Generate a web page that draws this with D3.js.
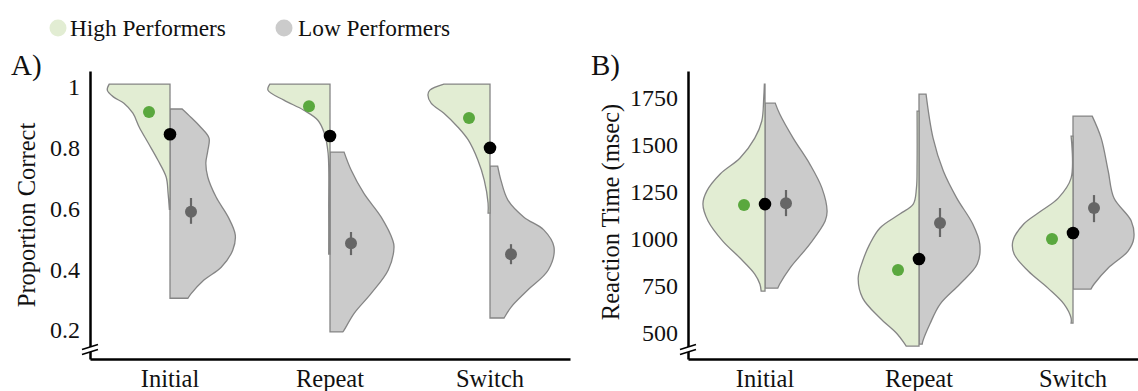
<!DOCTYPE html>
<html>
<head>
<meta charset="utf-8">
<script src="https://cdn.jsdelivr.net/npm/d3@7"></script>
<style>
  body { margin: 0; background: #fff; }
  svg text { font-family: "Liberation Serif", "Times New Roman", serif; fill: #111; }
</style>
</head>
<body>
<div id="chart"></div>
<script>
// categories + legend
const categories = ["Initial", "Repeat", "Switch"];
const groups = ["High Performers", "Low Performers"];

// A) proportion correct — violin outlines as [value, relative density 0-100]
const accHighDensity = [
  [[1.01, 95], [0.99, 98], [0.967, 88], [0.947, 72], [0.914, 58], [0.868, 48], [0.816, 34], [0.76, 19], [0.704, 6], [0.651, 3], [0.598, 1]],
  [[1.01, 94], [0.99, 97], [0.957, 72], [0.924, 41], [0.891, 19], [0.849, 9], [0.783, 3], [0.6, 2], [0.45, 2]],
  [[1.01, 72], [0.99, 94], [0.974, 97], [0.947, 92], [0.914, 72], [0.868, 50], [0.826, 34], [0.76, 19], [0.694, 9], [0.618, 3], [0.585, 3]]
];
const accLowDensity = [
  [[0.928, 19], [0.9, 33], [0.868, 48], [0.832, 61], [0.79, 59], [0.75, 56], [0.704, 59], [0.638, 72], [0.572, 91], [0.513, 102], [0.463, 98], [0.407, 80], [0.365, 53], [0.32, 33], [0.305, 28]],
  [[0.786, 22], [0.727, 33], [0.65, 53], [0.572, 80], [0.496, 98], [0.473, 100], [0.398, 91], [0.32, 64], [0.256, 38], [0.2, 22], [0.194, 20]],
  [[0.74, 12], [0.694, 17], [0.628, 28], [0.572, 53], [0.53, 84], [0.473, 100], [0.398, 91], [0.332, 59], [0.276, 33], [0.24, 22]]
];
const accHighMean = [0.918, 0.937, 0.898];
const accAllMean = [0.845, 0.839, 0.80];
const accAllErr = [[0.83, 0.86], [0.82, 0.855], [0.785, 0.815]];
const accLowMean = [0.59, 0.486, 0.45];
const accLowErr = [[0.55, 0.635], [0.447, 0.523], [0.417, 0.483]];
const accTicks = [0.2, 0.4, 0.6, 0.8, 1];

// B) reaction time (msec)
const rtHighDensity = [
  [[1824, 1], [1750, 2], [1628, 5], [1537, 16], [1431, 39], [1346, 70], [1255, 91], [1186, 97], [1096, 89], [989, 66], [899, 39], [814, 16], [761, 8], [723, 6]],
  [[1681, 3], [1400, 3], [1271, 4], [1186, 9], [1133, 30], [1059, 61], [973, 77], [883, 88], [793, 95], [686, 88], [580, 61], [495, 34], [441, 22], [431, 20]],
  [[1548, 3], [1324, 3], [1218, 23], [1149, 50], [1080, 77], [989, 94], [920, 92], [830, 70], [739, 39], [654, 14], [580, 3], [553, 3]]
];
const rtLowDensity = [
  [[1723, 16], [1665, 23], [1537, 44], [1399, 70], [1271, 89], [1149, 97], [1096, 94], [973, 70], [846, 39], [761, 23], [739, 20]],
  [[1771, 11], [1537, 22], [1362, 38], [1218, 59], [1080, 84], [973, 95], [867, 91], [761, 64], [654, 33], [548, 17], [457, 6], [441, 5]],
  [[1654, 30], [1537, 44], [1362, 55], [1218, 64], [1096, 91], [1005, 95], [936, 86], [846, 55], [761, 33], [734, 28]]
];
const rtHighMean = [1181, 835, 1000];
const rtAllMean = [1186, 894, 1032];
const rtAllErr = [[1176, 1196], [884, 904], [1022, 1042]];
const rtLowMean = [1191, 1085, 1165];
const rtLowErr = [[1122, 1261], [1011, 1165], [1090, 1234]];
const rtTicks = [500, 750, 1000, 1250, 1500, 1750];

const W = 1138, H = 391;
const TOP = 71, BOTTOM = 359;
const FONT = "'Liberation Serif', 'Times New Roman', serif";
const COL = { high: "#e2edd3", low: "#cbcbcb", edge: "#858585", green: "#5aa83e", grey: "#666", black: "#000" };

const svg = d3.select("#chart").append("svg").attr("width", W).attr("height", H);

// legend
const legend = svg.append("g");
[[58, 70, COL.high], [284, 298, COL.low]].forEach(([cx, tx, fill], i) => {
  legend.append("circle").attr("cx", cx).attr("cy", 28).attr("r", 8.5).attr("fill", fill);
  legend.append("text").attr("x", tx).attr("y", 36).style("font-family", FONT).style("font-size", "23.3px").text(groups[i]);
});

const panels = [
  { label: "A)", labelX: 11, title: "Proportion Correct", titleX: 35, titleY: 215,
    xRange: [90, 570], yDomain: [0.105, 1.053], ticks: accTicks, fmt: d => d === 1 ? "1" : d3.format(".1f")(d),
    high: accHighDensity, low: accLowDensity, highMean: accHighMean, allMean: accAllMean, allErr: accAllErr,
    lowMean: accLowMean, lowErr: accLowErr },
  { label: "B)", labelX: 591, title: "Reaction Time (msec)", titleX: 619, titleY: 212,
    xRange: [688, 1150], yDomain: [362, 1894], ticks: rtTicks, fmt: d3.format("d"),
    high: rtHighDensity, low: rtLowDensity, highMean: rtHighMean, allMean: rtAllMean, allErr: rtAllErr,
    lowMean: rtLowMean, lowErr: rtLowErr }
];

const wScale = d3.scaleLinear().domain([0, 100]).range([0, 64]);
const OFF = 21; // dot offset from split line

panels.forEach(p => {
  const g = svg.append("g");
  const x = d3.scaleBand().domain(categories).range(p.xRange);
  const y = d3.scaleLinear().domain(p.yDomain).range([BOTTOM, TOP]);
  const cx = c => x(c) + x.bandwidth() / 2;

  // violins
  categories.forEach((c, i) => {
    const m = cx(c);
    const left = d3.area().x0(m).x1(d => m - wScale(d[1])).y(d => y(d[0])).curve(d3.curveCatmullRom);
    const right = d3.area().x0(m).x1(d => m + wScale(d[1])).y(d => y(d[0])).curve(d3.curveCatmullRom);
    g.append("path").attr("d", right(p.low[i])).attr("fill", COL.low).attr("stroke", COL.edge).attr("stroke-width", 1.3);
    g.append("path").attr("d", left(p.high[i])).attr("fill", COL.high).attr("stroke", COL.edge).attr("stroke-width", 1.3);
  });

  // means + error bars
  categories.forEach((c, i) => {
    const m = cx(c);
    g.append("line").attr("x1", m + OFF).attr("x2", m + OFF)
      .attr("y1", y(p.lowErr[i][0])).attr("y2", y(p.lowErr[i][1])).attr("stroke", COL.grey).attr("stroke-width", 2.2);
    g.append("circle").attr("cx", m + OFF).attr("cy", y(p.lowMean[i])).attr("r", 6).attr("fill", COL.grey);
    g.append("circle").attr("cx", m - OFF).attr("cy", y(p.highMean[i])).attr("r", 6).attr("fill", COL.green);
    g.append("line").attr("x1", m).attr("x2", m)
      .attr("y1", y(p.allErr[i][0])).attr("y2", y(p.allErr[i][1])).attr("stroke", COL.black).attr("stroke-width", 2);
    g.append("circle").attr("cx", m).attr("cy", y(p.allMean[i])).attr("r", 6.3).attr("fill", COL.black);
  });

  // axes
  const ax = g.append("g").attr("transform", `translate(${p.xRange[0]},0)`)
    .call(d3.axisLeft(y).tickValues(p.ticks).tickFormat(p.fmt).tickSize(0).tickPadding(10));
  ax.select(".domain").attr("stroke", "#000").attr("stroke-width", 2.5);
  ax.selectAll("text").style("font-size", "24px").attr("fill", "#111").style("font-family", FONT);

  const bx = g.append("g").attr("transform", `translate(0,${BOTTOM})`)
    .call(d3.axisBottom(x).tickSize(0).tickPadding(11));
  bx.select(".domain").attr("stroke", "#000").attr("stroke-width", 2.5);
  bx.selectAll("text").style("font-size", "24.5px").attr("fill", "#111").style("font-family", FONT);

  // axis break
  const a = p.xRange[0];
  g.append("path").attr("d", `M${a - 8},${349.5} L${a + 8},${344.5} L${a + 8},${349.5} L${a - 8},${354.5} Z`).attr("fill", "#fff");
  [0, 5].forEach(dy => {
    g.append("line").attr("x1", a - 8).attr("x2", a + 8).attr("y1", 349.5 + dy).attr("y2", 344.5 + dy)
      .attr("stroke", "#000").attr("stroke-width", 1.6);
  });

  // labels
  g.append("text").attr("x", p.labelX).attr("y", 75).style("font-family", FONT).style("font-size", "29px").text(p.label);
  g.append("text").attr("transform", `translate(${p.titleX},${p.titleY}) rotate(-90)`)
    .attr("text-anchor", "middle").style("font-family", FONT).style("font-size", "24.5px").text(p.title);
});
</script>
</body>
</html>
